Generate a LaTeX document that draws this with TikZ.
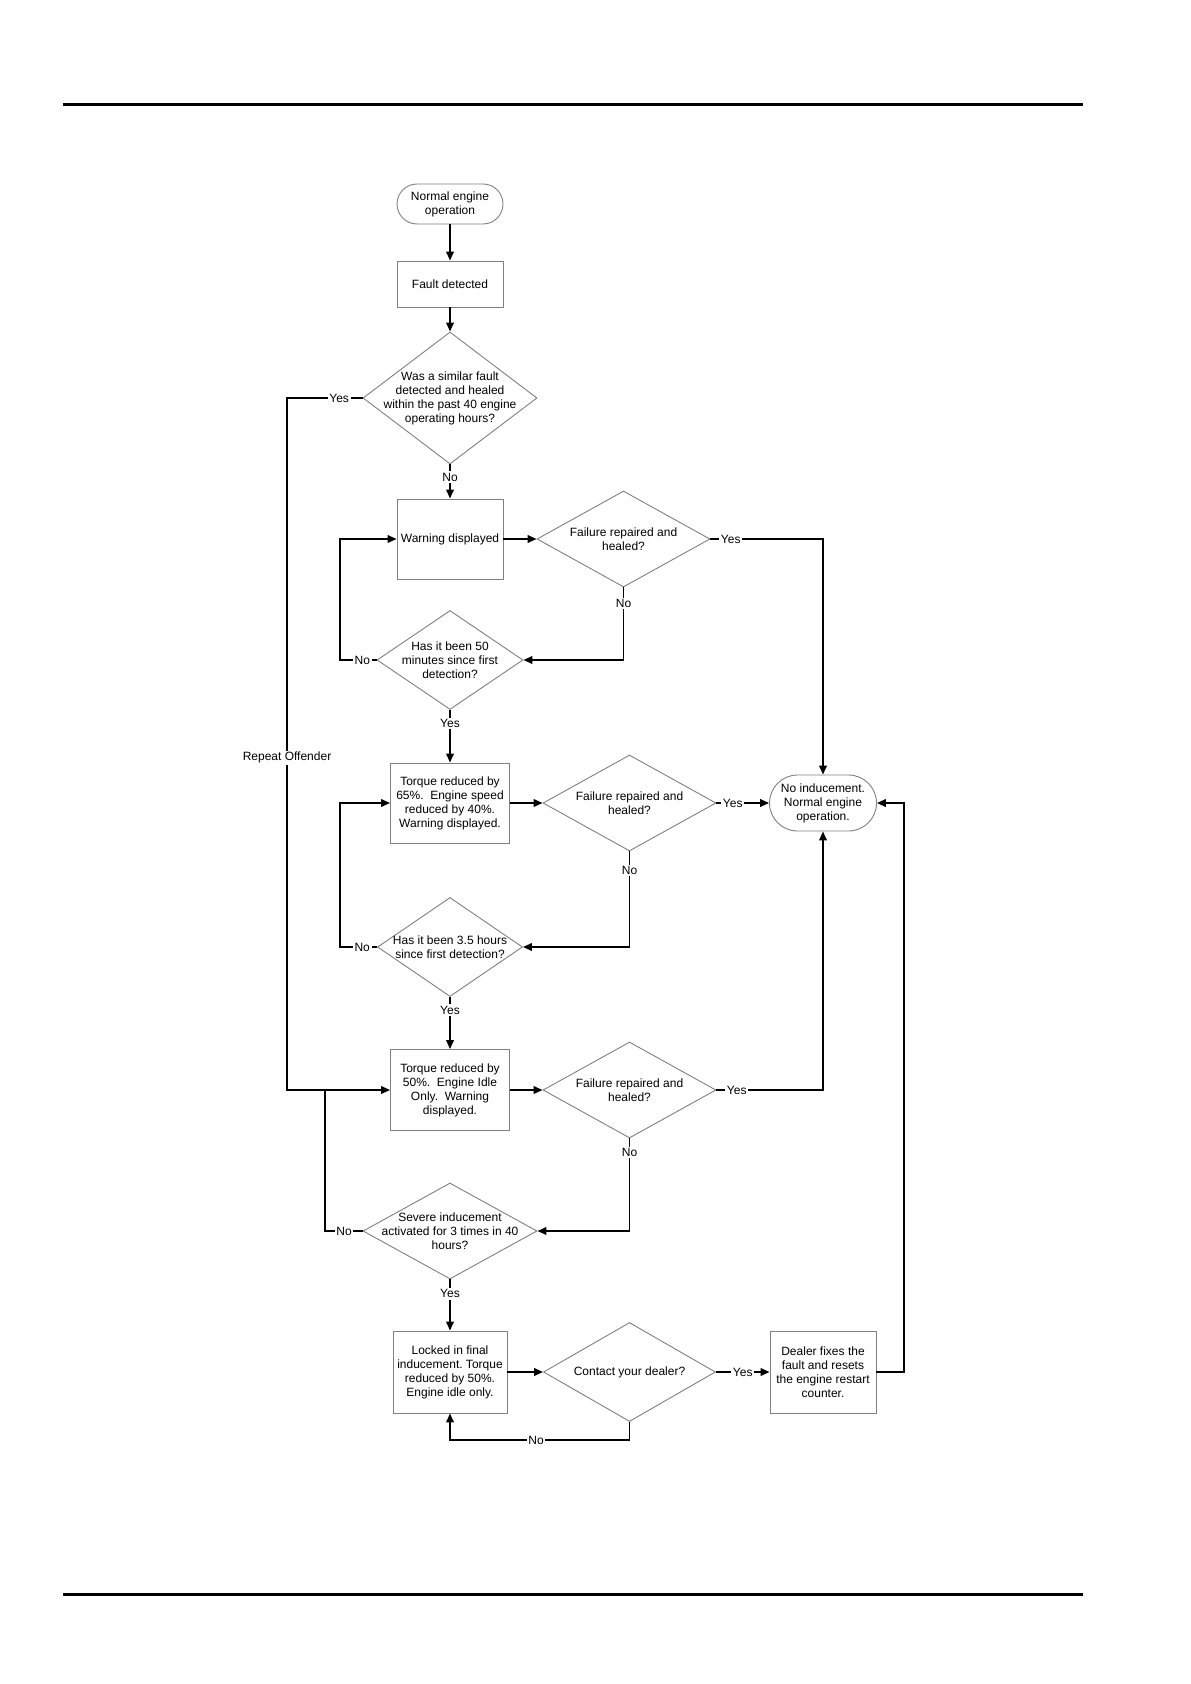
\documentclass[tikz,border=0pt]{standalone}
\usepackage{fontspec}
\setmainfont{Liberation Sans}
\usetikzlibrary{shapes.geometric, arrows.meta}
\frenchspacing
\begin{document}
\begin{tikzpicture}[x=0.5pt, y=-0.5pt,
  every node/.style={font=\fontsize{6}{7}\selectfont, align=center},
  shp/.style={draw=black!50, line width=0.45pt},
  term/.style n args={3}{shp, rectangle, rounded corners=#3, minimum width=#1, minimum height=#2, inner sep=0pt},
  procbox/.style 2 args={shp, rectangle, minimum width=#1, minimum height=#2, inner sep=0pt},
  dec/.style 2 args={shp, diamond, aspect=1, inner sep=-40pt, minimum width=#1, minimum height=#2},
  wire/.style={line width=0.9pt},
  conn/.style={wire, -{Triangle[length=4.5pt,width=3.8pt]}},
  lbl/.style={fill=white, inner sep=0.8pt},
  rule/.style={line width=1.5pt}
]
\useasboundingbox (0,0) rectangle (1190,1684);
\fill[white] (0,0) rectangle (1190,1684);

% page rules
\draw[rule] (63,105) -- (1083,105);
\draw[rule] (63,1594) -- (1083,1594);

% nodes
\node[term={53pt}{20pt}{10pt}] (t1) at (450,204) {Normal engine\\operation};
\node[procbox={53pt}{23pt}] (b1) at (450,284) {Fault detected};
\node[dec={87pt}{66pt}] (d1) at (450,398) {Was a similar fault\\detected and healed\\within the past 40 engine\\operating hours?};
\node[procbox={53pt}{40pt}] (b2) at (450,539) {Warning displayed};
\node[dec={86.5pt}{48pt}] (d2) at (623.5,539) {Failure repaired and\\healed?};
\node[dec={73pt}{49.5pt}] (d3) at (450,660) {Has it been 50\\minutes since first\\detection?};
\node[procbox={59.5pt}{40pt}] (b3) at (450,803) {Torque reduced by\\65\%.~~Engine speed\\reduced by 40\%.\\Warning displayed.};
\node[dec={86.5pt}{48pt}] (d4) at (629.5,803) {Failure repaired and\\healed?};
\node[term={53.5pt}{28pt}{14pt}] (t2) at (823,803) {No inducement.\\Normal engine\\operation.};
\node[dec={72.5pt}{49.5pt}] (d5) at (450,947) {Has it been 3.5 hours\\since first detection?};
\node[procbox={59.5pt}{40.5pt}] (b4) at (450,1090) {Torque reduced by\\50\%.~~Engine Idle\\Only.~~Warning\\displayed.};
\node[dec={86.5pt}{48pt}] (d6) at (629.5,1090) {Failure repaired and\\healed?};
\node[dec={87pt}{48pt}] (d7) at (450,1231) {Severe inducement\\activated for 3 times in 40\\hours?};
\node[procbox={57pt}{41pt}] (b5) at (450,1372) {Locked in final\\inducement. Torque\\reduced by 50\%.\\Engine idle only.};
\node[dec={86pt}{49.5pt}] (d8) at (629.5,1372) {Contact your dealer?};
\node[procbox={53pt}{41pt}] (b6) at (823,1372) {Dealer fixes the\\fault and resets\\the engine restart\\counter.};

% helper coordinates
\coordinate (xrep) at (287,0);
\coordinate (xla) at (340,0);
\coordinate (xlc) at (325,0);
\coordinate (xr) at (904,0);
\coordinate (ybot) at (0,1440);

% connectors
\draw[conn] (t1.south) -- (b1.north);
\draw[conn] (b1.south) -- (d1.north);
\draw[conn] (d1.south) -- node[lbl,pos=0.37]{No} (b2.north);
\draw[conn] (b2.east) -- (d2.west);
\draw[conn] (d2.east) -- node[lbl,pos=0.18]{Yes} (d2.east -| t2.north) -- (t2.north);
\draw[conn] (d2.south) -- node[lbl,pos=0.22]{No} (d2.south |- d3.east) -- (d3.east);
\draw[conn] (d3.west) -- node[lbl,pos=0.39]{No} (d3.west -| xla) |- (b2.west);
\draw[conn] (d3.south) -- node[lbl,pos=0.26]{Yes} (b3.north);
\draw[conn] (b3.east) -- (d4.west);
\draw[conn] (d4.east) -- node[lbl,pos=0.31]{Yes} (t2.west);
\draw[conn] (d4.south) -- node[lbl,pos=0.2]{No} (d4.south |- d5.east) -- (d5.east);
\draw[conn] (d5.west) -- node[lbl,pos=0.4]{No} (d5.west -| xla) |- (b3.west);
\draw[conn] (d5.south) -- node[lbl,pos=0.25]{Yes} (b4.north);
\draw[conn] (b4.east) -- (d6.west);
\draw[conn] (d6.east) -- node[lbl,pos=0.19]{Yes} (d6.east -| t2.south) -- (t2.south);
\draw[conn] (d6.south) -- node[lbl,pos=0.15]{No} (d6.south |- d7.east) -- (d7.east);
\draw[wire] (d7.west) -- node[lbl,pos=0.49]{No} (d7.west -| xlc) -- (b4.west -| xlc);
\draw[conn] (d1.west) -- node[lbl,pos=0.31]{Yes} (d1.west -| xrep) -- node[lbl,pos=0.52]{Repeat Offender} (b4.west -| xrep) -- (b4.west);
\draw[conn] (d7.south) -- node[lbl,pos=0.28]{Yes} (b5.north);
\draw[conn] (b5.east) -- (d8.west);
\draw[conn] (d8.east) -- node[lbl,pos=0.5]{Yes} (b6.west);
\draw[conn] (b6.east) -- (b6.east -| xr) -- (t2.east -| xr) -- (t2.east);
\draw[conn] (d8.south) -- (d8.south |- ybot) -- node[lbl,pos=0.52]{No} (b5.south |- ybot) -- (b5.south);
\end{tikzpicture}
\end{document}
